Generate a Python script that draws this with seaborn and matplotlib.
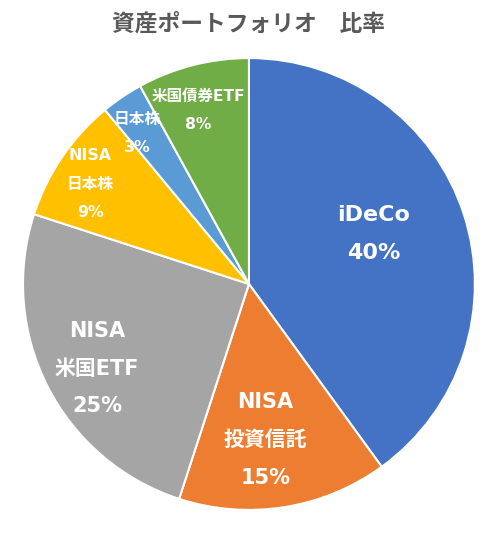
import numpy as np
import matplotlib
matplotlib.use("Agg")
import matplotlib.pyplot as plt
import seaborn as sns

sns.set_theme(style="white")
plt.rcParams['font.family'] = ['DejaVu Sans', 'Noto Sans CJK JP']

labels = ["iDeCo", "NISA\n投資信託", "NISA\n米国ETF", "NISA\n日本株", "日本株", "米国債券ETF"]
shares = [40, 15, 25, 9, 3, 8]
colors = ["#4472C4", "#ED7D31", "#A5A5A5", "#FFC000", "#5B9BD5", "#70AD47"]
# label placement: fraction of radius and angle nudge (deg) from wedge middle
label_r = [0.596, 0.694, 0.77, 0.83, 0.83, 0.80]
label_nudge = [3.8, -3.0, 2.2, 2.0, 2.5, 1.9]
label_size = [16, 15, 15, 11.3, 11.3, 11.2]

fig = plt.figure(figsize=(4.96, 5.37), dpi=100)
ax = fig.add_axes([0.0464, 0.0503, 0.911, 0.8417])

wedges, _ = ax.pie(shares, colors=colors, startangle=90, counterclock=False,
                   wedgeprops=dict(edgecolor="white", linewidth=1.5))
ax.set_xlim(-1, 1)
ax.set_ylim(-1, 1)
ax.set_aspect("equal")

for w, lab, val, r, dn, fs in zip(wedges, labels, shares, label_r, label_nudge, label_size):
    ang = np.deg2rad((w.theta1 + w.theta2) / 2 + dn)
    x, y = r * np.cos(ang), r * np.sin(ang)
    ax.text(x, y, f"{lab}\n{val}%", ha="center", va="center", color="white",
            fontsize=fs, fontweight="bold", linespacing=2.1)

fig.text(0.5, 0.956, "資産ポートフォリオ　比率", ha="center", va="center",
         fontsize=16.4, fontweight="bold", color="#595959")

plt.savefig("out.png", dpi=100)
